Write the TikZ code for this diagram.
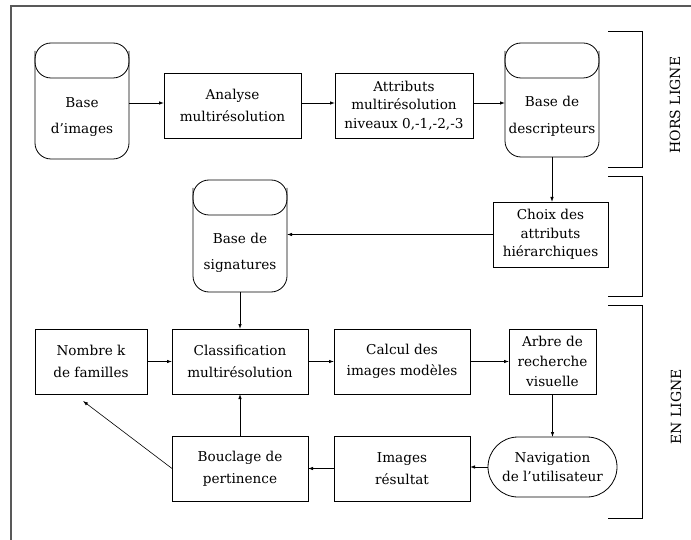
\documentclass[tikz,border=0pt]{standalone}
\usepackage{fontspec}
\setmainfont{DejaVu Serif}
\usetikzlibrary{arrows.meta,calc,shapes.misc}

% lower edge of the lid on a database cylinder
\newcommand\dbcap[1]{%
  \draw[line width=0.8pt, rounded corners=16pt]
    ($(#1.north west)+(0,8)$) -- ($(#1.north west)+(0,35)$)
    -- ($(#1.north east)+(0,35)$) -- ($(#1.north east)+(0,8)$);}

\begin{document}
\begin{tikzpicture}[x=1pt,y=-1pt,
  every node/.style={font=\fontsize{13.6}{21.5}\selectfont, outer sep=0pt},
  box/.style={draw, line width=0.8pt, inner sep=0pt, align=center, minimum height=65pt},
  threeline/.style={font=\fontsize{13.6}{18.5}\selectfont},
  dbase/.style={draw, line width=0.8pt, rounded corners=16pt, minimum width=94pt, inner sep=0pt},
  dbtext/.style={align=center, inner sep=0pt, font=\fontsize{13.6}{26.5}\selectfont},
  link/.style={line width=0.8pt, -{Latex[length=5pt,width=3.5pt]}},
  frame/.style={line width=1.2pt, black!65},
  bracket/.style={line width=0.8pt},
  phase/.style={rotate=90, inner sep=0pt, font=\fontsize{14}{19}\selectfont}
]
\useasboundingbox (0,0) rectangle (691,540);

% outer frame
\draw[frame] (11,540) -- (11,6) -- (691,6);

% offline chain
\node[dbase, minimum height=116pt] (img) at (82,101) {};
\dbcap{img}
\node[dbtext] (imgT) at (82,117) {Base\\d'images};

\node[box, minimum width=137pt] (ana) at (232.5,105.5) {Analyse\\multirésolution};
\node[box, threeline, minimum width=138pt] (att) at (404,105.5) {Attributs\\multirésolution\\niveaux 0,-1,-2,-3};

\node[dbase, minimum height=114pt] (desc) at (552,100) {};
\dbcap{desc}
\node[dbtext] (descT) at (552,116) {Base de\\descripteurs};

\node[box, threeline, minimum width=115pt] (choix) at (550.5,234.5) {Choix des\\attributs\\hiérarchiques};

\node[dbase, minimum height=112pt] (sig) at (240,236) {};
\dbcap{sig}
\node[dbtext] (sigT) at (240,253) {Base de\\signatures};

% online loop
\node[box, minimum width=112pt] (nk) at (91,361.5) {Nombre k\\de familles};
\node[box, minimum width=136pt] (cls) at (240,361.5) {Classification\\multirésolution};
\node[box, minimum width=136pt] (calc) at (402,361.5) {Calcul des\\images modèles};
\node[box, minimum width=87pt, font=\fontsize{13.6}{20}\selectfont] (arbre) at (552.5,361.5) {Arbre de\\recherche\\visuelle};
\node[draw, line width=0.8pt, rounded rectangle, inner sep=0pt, minimum width=129pt, minimum height=60pt,
      align=center, font=\fontsize{13.6}{19.5}\selectfont] (nav) at (552.5,467) {Navigation\\de l'utilisateur};
\node[box, minimum width=136pt] (res) at (402,468.5) {Images\\résultat};
\node[box, minimum width=136pt] (bou) at (240,468.5) {Bouclage de\\pertinence};

% connectors
\coordinate (r1) at (0,103);
\draw[link] (img.east |- r1) -- (ana.west |- r1);
\draw[link] (ana.east |- r1) -- (att.west |- r1);
\draw[link] (att.east |- r1) -- (desc.west |- r1);
\draw[link] (desc.south) -- (desc.south |- choix.north);
\draw[link] (choix.west) -- (choix.west -| sig.east);
\draw[link] (sig.south) -- (cls.north);
\draw[link] (nk.east) -- (cls.west);
\draw[link] (cls.east) -- (calc.west);
\draw[link] (calc.east) -- (arbre.west);
\draw[link] (arbre.south) -- (nav.north);
\draw[link] (nav.west) -- (nav.west -| res.east);
\draw[link] (res.west) -- (bou.east);
\draw[link] (bou.north) -- (cls.south);
\coordinate (fb) at (83,401);
\draw[link, line width=0.6pt] (bou.west) -- (fb);

% phase brackets
\draw[bracket] (608,31) -- (642,31) -- (642,167) -- (608,167);
\draw[bracket] (608,176) -- (642,176) -- (642,296) -- (608,296);
\draw[bracket] (608,305) -- (642,305) -- (642,518) -- (608,518);
\node[phase] (hors) at (675,105) {HORS LIGNE};
\node[phase] (enl) at (676,407) {EN LIGNE};
\end{tikzpicture}
\end{document}
